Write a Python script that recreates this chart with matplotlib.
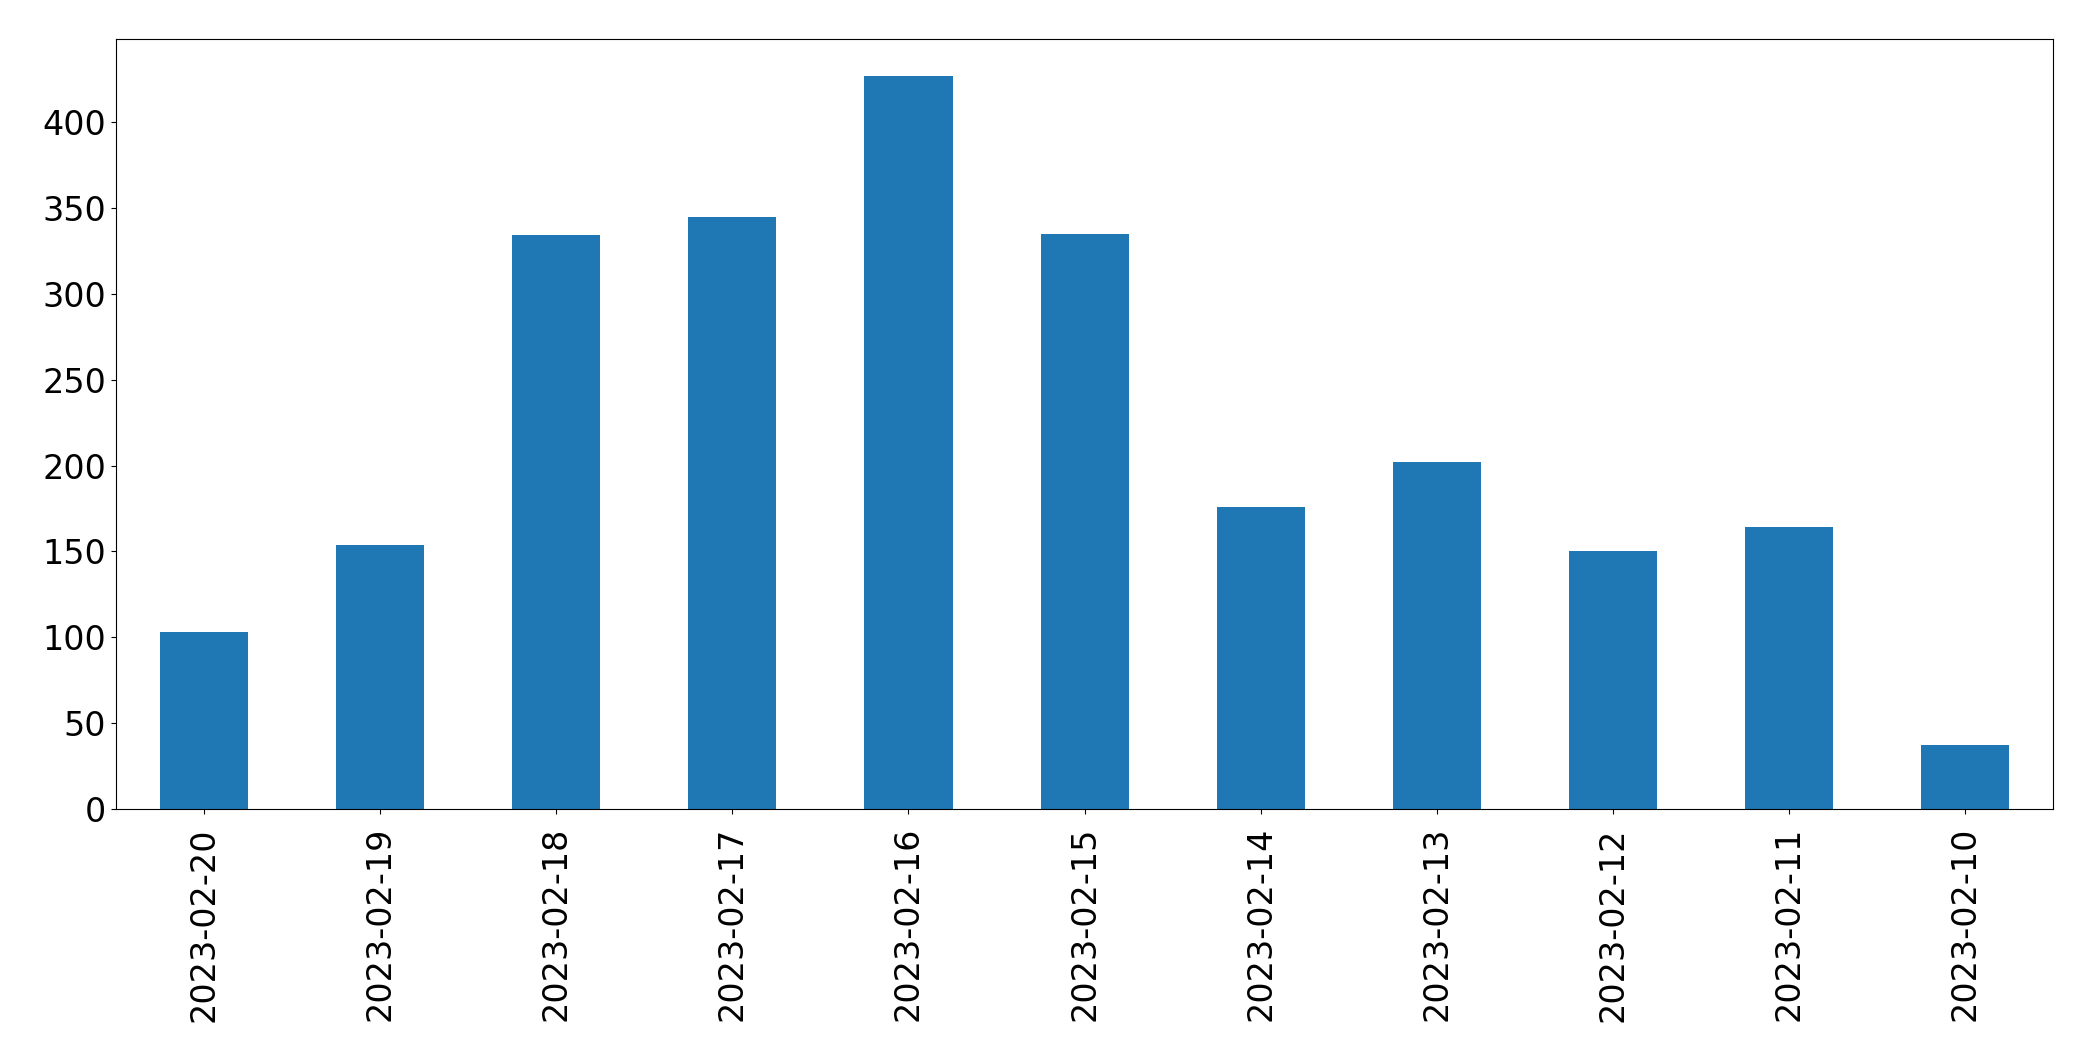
import matplotlib
matplotlib.use('Agg')
import matplotlib.pyplot as plt
import numpy as np

dates = ['2023-02-20', '2023-02-19', '2023-02-18', '2023-02-17', '2023-02-16', '2023-02-15',
         '2023-02-14', '2023-02-13', '2023-02-12', '2023-02-11', '2023-02-10']
counts = [103, 154, 334, 345, 427, 335, 176, 202, 150, 164, 37]

fig, ax = plt.subplots(figsize = (20.93, 10.61), dpi = 100)
fig.subplots_adjust(left = 0.0554, right = 0.981, top = 0.9632, bottom = 0.2375)

x = np.arange(len(dates))
ax.bar(x, counts, width = 0.5, color = '#1f77b4')
ax.set_xlim(-0.5, len(dates) - 0.5)
ax.set_xticks(x)
ax.set_xticklabels(dates, rotation = 90)
ax.tick_params(axis = 'both', labelsize = 24)
ax.tick_params(axis = 'x', pad = 9.5)

plt.savefig('out.png', dpi = 100, facecolor = 'white')
plt.close()
